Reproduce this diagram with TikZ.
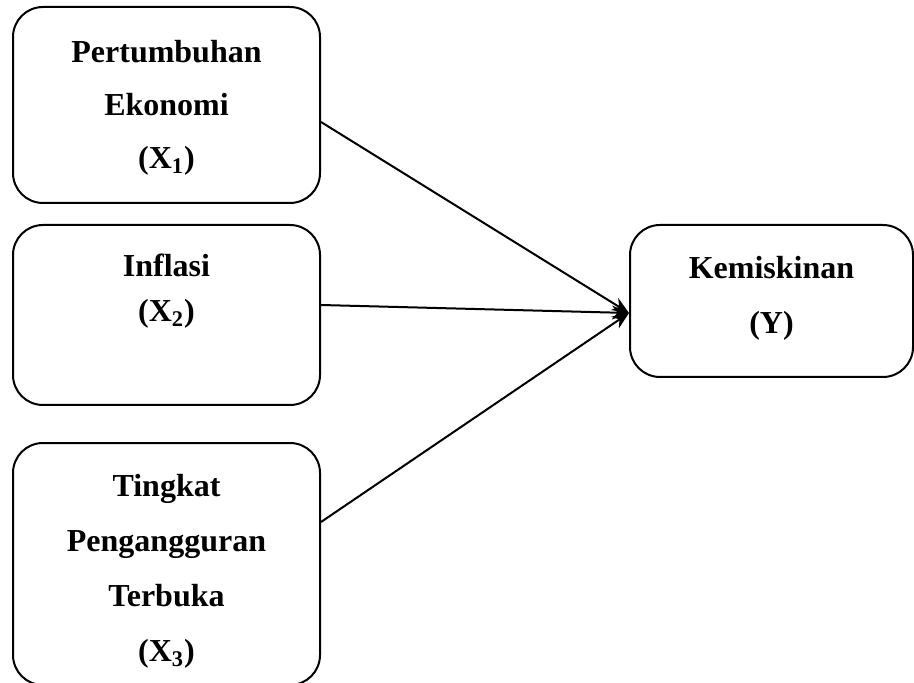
\documentclass[tikz,border=0pt]{standalone}
\usepackage{fontspec}
\setmainfont{Liberation Serif}
\usetikzlibrary{arrows.meta}

\begin{document}
\begin{tikzpicture}
		[x=0.5pt,y=-0.5pt,
		var/.style={draw,line width=1pt,rounded corners=15pt,align=center,
			inner sep=0pt,minimum width=153.5pt},
		teks/.style={font=\bfseries\fontsize{16}{#1}\selectfont},
		panah/.style={line width=1pt,-{Stealth[length=8.5pt,width=7pt]}}]
		\useasboundingbox (0,0) rectangle (914,683);
		% variabel bebas
		\node[var,teks=26.5,minimum height=98pt] (x1) at (166.5,105)
		{\rule{0pt}{13.5pt}Pertumbuhan\\Ekonomi\\(X\textsubscript{1})};
		\node[var,teks=22.5,minimum height=90pt] (x2) at (166.5,315)
		{Inflasi\\(X\textsubscript{2})\\[5pt]\mbox{}};
		\node[var,teks=27.5,minimum height=121pt] (x3) at (166.5,564)
		{\rule{0pt}{18pt}Tingkat\\Pengangguran\\Terbuka\\(X\textsubscript{3})};
		% variabel terikat
		\node[var,teks=27.5,minimum width=141.5pt,minimum height=76pt] (y) at (771.5,301)
		{Kemiskinan\\(Y)\\[-21.5pt]\mbox{}};
		% panah
		\draw[panah] ([yshift=-8.5pt]x1.east) -- ([yshift=-6pt]y.west);
		\draw[panah] ([yshift=5pt]x2.east) -- ([yshift=-6pt]y.west);
		\draw[panah] ([yshift=21pt]x3.east) -- ([yshift=-6pt]y.west);
	\end{tikzpicture}
\end{document}
